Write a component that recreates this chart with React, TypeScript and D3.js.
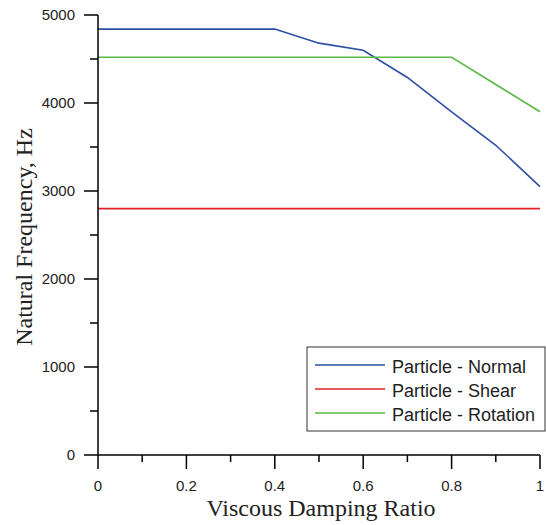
import React from "react";
import * as d3 from "d3";

const dampingRatios = [0, 0.1, 0.2, 0.3, 0.4, 0.5, 0.6, 0.7, 0.8, 0.9, 1.0];
const normalFreq = [4840, 4840, 4840, 4840, 4840, 4680, 4600, 4290, 3900, 3520, 3050];
const shearFreq = [2800, 2800, 2800, 2800, 2800, 2800, 2800, 2800, 2800, 2800, 2800];
const rotationFreq = [4520, 4520, 4520, 4520, 4520, 4520, 4520, 4520, 4520, 4210, 3900];

const seriesNames = ["Particle - Normal", "Particle - Shear", "Particle - Rotation"];
const seriesColors = ["#2b4fa2", "#e3202b", "#5cb947"];
const seriesValues = [normalFreq, shearFreq, rotationFreq];

const xMajorTicks = [0, 0.2, 0.4, 0.6, 0.8, 1];
const xMinorTicks = [0.1, 0.3, 0.5, 0.7, 0.9];
const yMajorTicks = [0, 1000, 2000, 3000, 4000, 5000];
const yMinorTicks = [500, 1500, 2500, 3500, 4500];

export default function App() {
  const W = 546, H = 525;
  const x = d3.scaleLinear().domain([0, 1]).range([98, 540]);
  const y = d3.scaleLinear().domain([0, 5000]).range([455, 15]);
  const line = d3.line<number>().x((_, i) => x(dampingRatios[i])).y((v) => y(v));
  const sans = "'Liberation Sans', Arial, sans-serif";
  const serif = "'Liberation Serif', 'Times New Roman', serif";
  const legX = 307, legY = 347, legW = 238, legH = 84;
  return (
    <svg width={W} height={H} style={{ position: "absolute", left: 0, top: 0, background: "#fff" }}>
      {seriesValues.map((vals, i) => (
        <path key={i} d={line(vals) || ""} fill="none" stroke={seriesColors[i]} strokeWidth={1.6} />
      ))}
      {/* axes */}
      <line x1={x(0)} x2={x(0)} y1={y(5000)} y2={y(0)} stroke="#000" strokeWidth={1.5} />
      <line x1={x(0)} x2={x(1)} y1={y(0)} y2={y(0)} stroke="#000" strokeWidth={1.5} />
      {yMajorTicks.map((t) => (
        <g key={"ym" + t}>
          <line x1={x(0) - 14} x2={x(0)} y1={y(t)} y2={y(t)} stroke="#000" strokeWidth={1.5} />
          <text x={75} y={y(t) + 5.3} textAnchor="end" fontFamily={sans} fontSize={15} fill="#222">{t}</text>
        </g>
      ))}
      {yMinorTicks.map((t) => (
        <line key={"yn" + t} x1={x(0) - 8} x2={x(0)} y1={y(t)} y2={y(t)} stroke="#000" strokeWidth={1.5} />
      ))}
      {xMajorTicks.map((t) => (
        <g key={"xm" + t}>
          <line x1={x(t)} x2={x(t)} y1={y(0)} y2={y(0) + 14} stroke="#000" strokeWidth={1.5} />
          <text x={x(t)} y={491} textAnchor="middle" fontFamily={sans} fontSize={15} fill="#222">{t}</text>
        </g>
      ))}
      {xMinorTicks.map((t) => (
        <line key={"xn" + t} x1={x(t)} x2={x(t)} y1={y(0)} y2={y(0) + 7} stroke="#000" strokeWidth={1.5} />
      ))}
      <text x={321} y={516} textAnchor="middle" fontFamily={serif} fontSize={24} fill="#222">Viscous Damping Ratio</text>
      <text transform={`translate(32,237) rotate(-90)`} textAnchor="middle" fontFamily={serif} fontSize={24} fill="#222">Natural Frequency, Hz</text>
      {/* legend */}
      <rect x={legX} y={legY} width={legW} height={legH} fill="#fff" stroke="#333" strokeWidth={1} />
      {seriesNames.map((n, i) => (
        <g key={n}>
          <line x1={315} x2={385} y1={365 + i * 24} y2={365 + i * 24} stroke={seriesColors[i]} strokeWidth={1.6} />
          <text x={392} y={373 + i * 24} fontFamily={sans} fontSize={18} fill="#222">{n}</text>
        </g>
      ))}
    </svg>
  );
}
